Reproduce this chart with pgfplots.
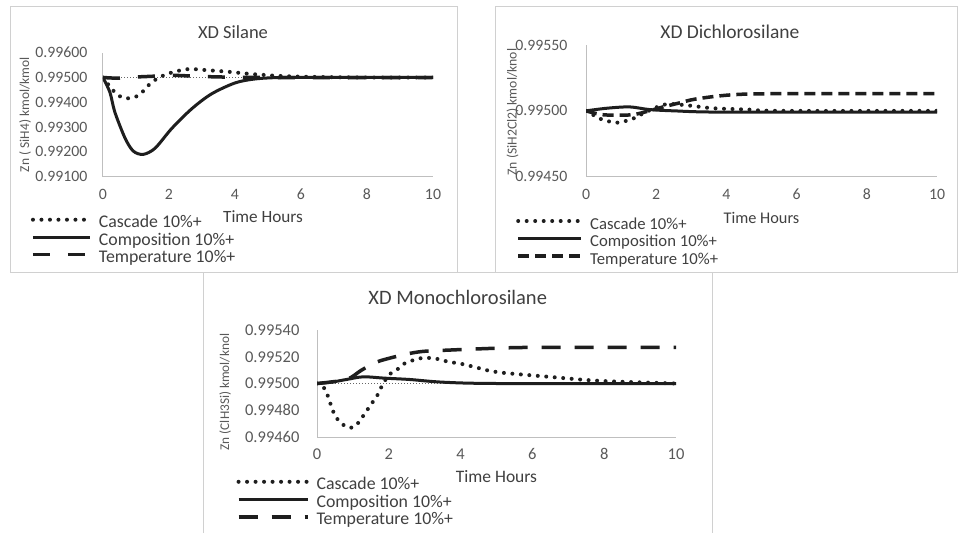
\documentclass[border=0pt]{standalone}
\usepackage{pgfplots}
\pgfplotsset{compat=1.18}
\usepackage{fontspec}
\setmainfont{Carlito}
\definecolor{txt}{HTML}{595959}
\definecolor{ttl}{HTML}{404040}
\definecolor{frm}{HTML}{D0D0D0}
\definecolor{axl}{HTML}{BFBFBF}
\definecolor{ln}{HTML}{1E1E1E}
\pgfplotsset{
  panel/.style={
    scale only axis, axis lines*=left, axis line style={axl, line width=1pt, -},
    xmin=0, xmax=10, xtick={0,2,4,6,8,10}, major tick length=0pt,
    tick style={draw=none},
    ticklabel style={color=txt},
    xticklabel style={yshift=-9pt, text height=10pt, text depth=0pt},
    /pgf/number format/assume math mode=true,
    scaled y ticks=false,
    yticklabel={\pgfmathprintnumber[fixed,fixed zerofill,precision=5]{\tick}},
    legend cell align=left,
    legend style={draw=none, fill=none, anchor=north west, text=ttl,
      nodes={inner sep=0pt, text height=11pt, text depth=3pt},
      row sep=3.5pt, /tikz/every odd column/.style={column sep=7pt}},
    title style={color=ttl, anchor=center, yshift=-5pt},
    xlabel style={color=ttl, anchor=center},
    ylabel style={color=txt, anchor=center},
  },
  cas/.style={ln, line width=4pt, line cap=round, dash pattern=on 0pt off 8.5pt},
  com/.style={ln, line width=3pt},
  base/.style={black!60, line width=0.9pt, dash pattern=on 1pt off 2pt},
}
\begin{document}
\begin{tikzpicture}[x=1pt,y=1pt]
\useasboundingbox (0,0) rectangle (958,533);
\fill[white] (0,0) rectangle (958,533);
\draw[frm, line width=1pt] (10,526) rectangle (457,260);
\draw[frm, line width=1pt] (495,526) rectangle (957,260);
\draw[frm, line width=1pt] (203,0) -- (203,260) -- (712,260) -- (712,0);

% ---------- Panel 1 ----------
\begin{axis}[panel, at={(103pt,356.3pt)}, anchor=south west,
  width=330pt, height=124pt,
  ymin=0.991, ymax=0.996, ytick={0.991,0.992,0.993,0.994,0.995,0.996},
  ticklabel style={font=\fontsize{15.8}{18}\selectfont},
  yticklabel style={xshift=-12pt},
  title={XD Silane}, title style={font=\fontsize{18.5}{22}\selectfont, at={(axis description cs:0.394,1.161)}},
  xlabel={Time Hours}, xlabel style={font=\fontsize{17.2}{20}\selectfont, at={(axis description cs:0.485,-0.323)}},
  ylabel={Zn ( SiH4) kmol/kmol}, ylabel style={font=\fontsize{13.5}{16}\selectfont, at={(axis description cs:-0.236,0.5)}},
  legend style={font=\fontsize{17.8}{20}\selectfont, at={(axis description cs:-0.228,-0.305)}},
  legend image code/.code={\draw[#1] (0pt,4pt) -- (57pt,4pt);},
]
\addplot[base, forget plot] coordinates {(0,0.995) (4.6,0.995)};
\addplot[cas, smooth] coordinates {(0,0.99500) (0.2,0.99465) (0.41,0.99434) (0.67,0.99416) (1.07,0.99427) (1.42,0.99474) (1.7,0.99500) (2.08,0.99520) (2.59,0.99534) (3.1,0.99530) (3.8,0.99523) (4.5,0.99514) (5.4,0.99506) (6.5,0.99502) (8,0.99500) (10,0.99500)};
\addlegendentry{Cascade 10\%+}
\addplot[com, smooth] coordinates {(0,0.99500) (0.21,0.99440) (0.36,0.99360) (0.67,0.99255) (0.92,0.99203) (1.22,0.99190) (1.58,0.99215) (2.08,0.99294) (2.69,0.99374) (3.29,0.99434) (4.0,0.99478) (4.6,0.99494) (5.4,0.99500) (7,0.99500) (10,0.99500)};
\addlegendentry{Composition 10\%+}
\addplot[ln, line width=3.5pt, dash pattern=on 17pt off 18pt, smooth] coordinates {(0,0.99500) (0.5,0.99497) (1,0.99502) (1.5,0.99505) (2,0.99509) (2.5,0.99507) (3,0.99504) (4,0.99501) (5,0.99500) (10,0.99500)};
\addlegendentry{Temperature 10\%+}
\end{axis}

% ---------- Panel 2 ----------
\begin{axis}[panel, at={(586pt,356.3pt)}, anchor=south west,
  width=351pt, height=131.7pt,
  ymin=0.9945, ymax=0.9955, ytick={0.9945,0.995,0.9955},
  ticklabel style={font=\fontsize{15.8}{18}\selectfont},
  yticklabel style={xshift=-15pt},
  title={XD Dichlorosilane}, title style={font=\fontsize{19.5}{23}\selectfont, at={(axis description cs:0.41,1.091)}},
  xlabel={Time Hours}, xlabel style={font=\fontsize{16.3}{19}\selectfont, at={(axis description cs:0.5,-0.314)}},
  ylabel={Zn (SiH2Cl2) kmol/knol}, ylabel style={font=\fontsize{13.7}{16}\selectfont, at={(axis description cs:-0.209,0.49)}},
  legend style={font=\fontsize{16.7}{19}\selectfont, at={(axis description cs:-0.208,-0.297)}},
  legend image code/.code={\draw[#1] (0pt,4pt) -- (63pt,4pt);},
]
\addplot[cas, smooth] coordinates {(0,0.99500) (0.2,0.99497) (0.4,0.99494) (0.87,0.99491) (1.33,0.99494) (1.7,0.99499) (2.28,0.99505) (2.94,0.99504) (3.6,0.99502) (4.6,0.99501) (5.5,0.99500) (10,0.99500)};
\addlegendentry{Cascade 10\%+}
\addplot[com, smooth] coordinates {(0,0.99500) (0.6,0.99502) (1.24,0.99503) (1.8,0.99501) (2.5,0.99500) (4,0.99499) (10,0.99499)};
\addlegendentry{Composition 10\%+}
\addplot[ln, line width=3.5pt, dash pattern=on 11pt off 6pt, smooth] coordinates {(0,0.99500) (0.5,0.99497) (1.3,0.99497) (1.8,0.99500) (2.2,0.99503) (2.66,0.99506) (3.13,0.99509) (4.07,0.99512) (5.3,0.99513) (10,0.99513)};
\addlegendentry{Temperature 10\%+}
\end{axis}

% ---------- Panel 3 ----------
\begin{axis}[panel, at={(317pt,96pt)}, anchor=south west,
  width=359pt, height=107pt,
  ymin=0.9946, ymax=0.9954, ytick={0.9946,0.9948,0.995,0.9952,0.9954},
  ticklabel style={font=\fontsize{16.5}{19}\selectfont},
  yticklabel style={xshift=-14pt},
  title={XD Monochlorosilane}, title style={font=\fontsize{20.5}{24}\selectfont, at={(axis description cs:0.392,1.298)}},
  xlabel={Time Hours}, xlabel style={font=\fontsize{17.5}{20}\selectfont, at={(axis description cs:0.5,-0.372)}},
  ylabel={Zn (ClH3Si) kmol/knol}, ylabel style={font=\fontsize{13.3}{16}\selectfont, at={(axis description cs:-0.256,0.42)}},
  legend style={font=\fontsize{17.8}{20}\selectfont, at={(axis description cs:-0.233,-0.37)}},
  legend image code/.code={\draw[#1] (0pt,4pt) -- (69pt,4pt);},
]
\addplot[base, forget plot] coordinates {(0,0.995) (4.7,0.995)};
\addplot[cas, smooth] coordinates {(0,0.99500) (0.22,0.99496) (0.36,0.99486) (0.5,0.99476) (0.69,0.99470) (0.87,0.99467) (1.06,0.99468) (1.24,0.99474) (1.47,0.99483) (1.7,0.99492) (1.84,0.99500) (2.03,0.99507) (2.26,0.99511) (2.44,0.99515) (2.63,0.99517) (2.91,0.99519) (3.19,0.99519) (3.42,0.99518) (3.69,0.99516) (3.97,0.99515) (4.44,0.99512) (4.72,0.99510) (5.18,0.99508) (6.47,0.99505) (7.86,0.99502) (10,0.99500)};
\addlegendentry{Cascade 10\%+}
\addplot[com, smooth] coordinates {(0,0.99500) (0.4,0.99501) (0.82,0.99503) (1.29,0.99505) (1.88,0.99504) (2.58,0.99503) (3.5,0.99501) (5,0.99500) (10,0.99500)};
\addlegendentry{Composition 10\%+}
\addplot[ln, line width=3.5pt, dash pattern=on 19pt off 14pt, smooth] coordinates {(0,0.99500) (0.82,0.99503) (1.24,0.99510) (1.66,0.99516) (2.03,0.99519) (2.49,0.99522) (2.95,0.99524) (3.69,0.99525) (4.6,0.99526) (6,0.99527) (10,0.99527)};
\addlegendentry{Temperature 10\%+}
\end{axis}
\end{tikzpicture}
\end{document}
